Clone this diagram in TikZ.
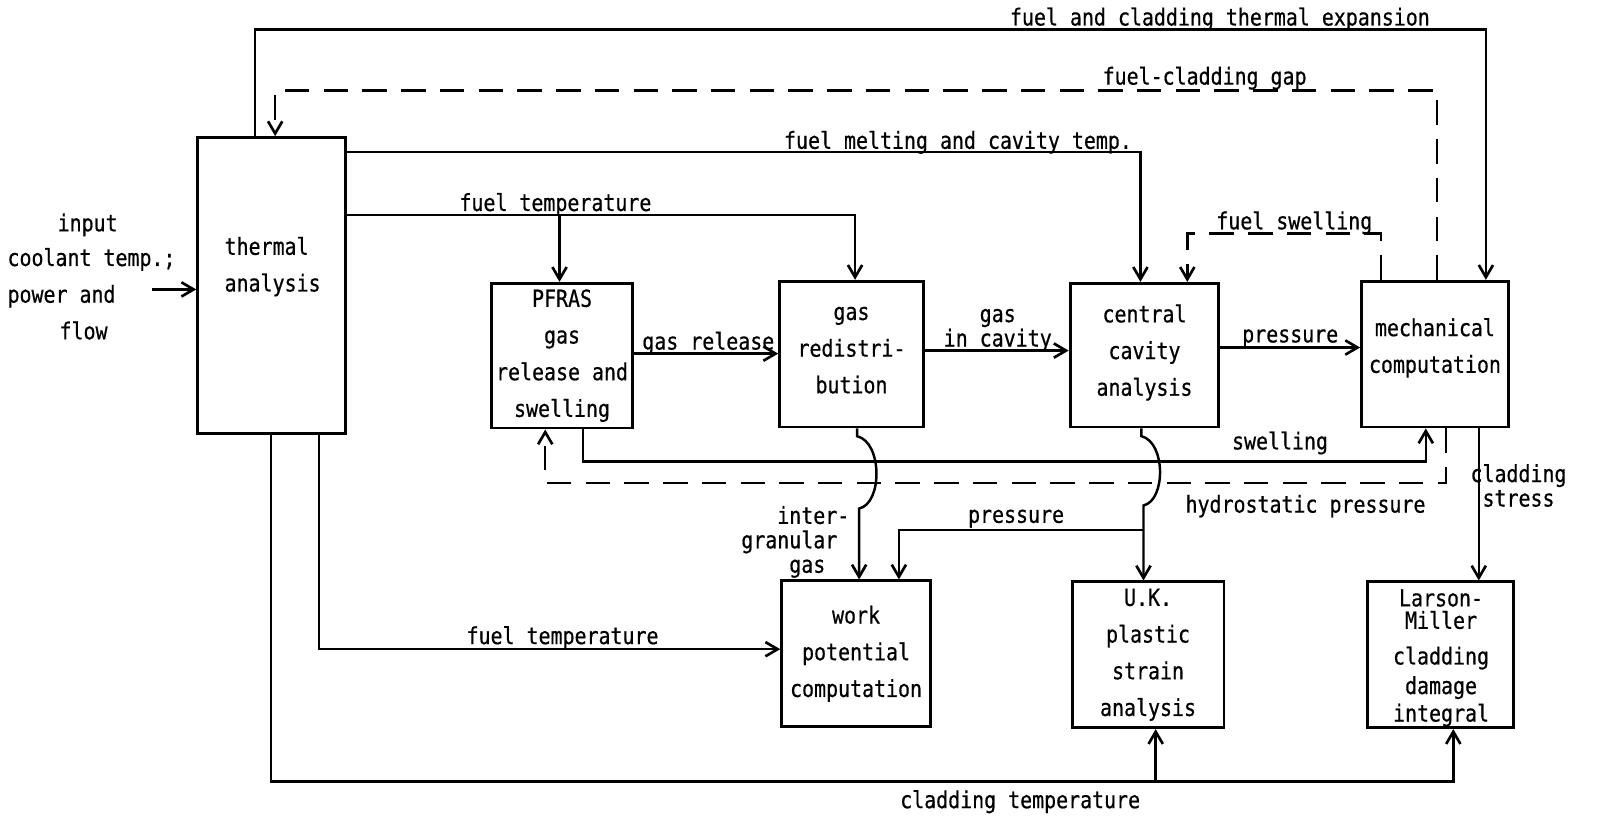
\documentclass[tikz,border=0pt]{standalone}
\usepackage{fontspec}
\setmonofont[FakeStretch=0.85,FakeBold=0.6]{DejaVu Sans Mono}
\usetikzlibrary{arrows.meta}
% extra depth below the last line, lifts centred box text
\newcommand\liftby[1]{\rule[-#1]{0pt}{0pt}}
\begin{document}
\begin{tikzpicture}[x=0.5pt,y=-0.5pt,
  every node/.style={font=\fontsize{11.5pt}{18pt}\selectfont\ttfamily},
  box/.style={draw, line width=1.4pt, inner sep=0pt, align=center},
  txt/.style={inner sep=0pt, align=center},
  wire/.style={line width=1.2pt},
  flow/.style={line width=1.2pt, -{Straight Barb[length=6pt,width=7pt,line width=1.3pt]}},
  dashline/.style={dash pattern=on 12pt off 7pt},
  tight/.style={font=\fontsize{11.5pt}{12pt}\selectfont\ttfamily}]
\useasboundingbox (0,0) rectangle (1568,801);

% ---- blocks
\node[box, minimum width=72.5pt, minimum height=145pt] (thermal) at (266.5,280) {};
\node[txt, anchor=base west, align=left] (thermal-t) at (220,286) {thermal\\analysis};
\node[box, minimum width=69.5pt, minimum height=71pt] (pfras) at (551.5,349)
  {PFRAS\\gas\\release and\\swelling};
\node[box, minimum width=70.5pt, minimum height=71.5pt] (redist) at (835.5,347.5)
  {gas\\redistri-\\bution\liftby{4pt}};
\node[box, minimum width=73pt, minimum height=70.5pt] (central) at (1123,348.5)
  {central\\cavity\\analysis\liftby{5pt}};
\node[box, minimum width=72pt, minimum height=71.5pt] (mech) at (1408,347.5)
  {mechanical\\computation\liftby{8.5pt}};
\node[box, minimum width=73pt, minimum height=71.5pt] (work) at (840,641.5)
  {work\\potential\\computation\liftby{2pt}};
\node[box, minimum width=74.5pt, minimum height=71.5pt] (uk) at (1126.5,642.5)
  {U.K.\\plastic\\strain\\analysis};
\node[box, minimum width=71.5pt, minimum height=71.5pt] (larson) at (1413.5,642.5) {};
\node[txt, anchor=base] (larson-t) at (1414,708)
  {Larson-\\[-7pt]Miller\\[-0.5pt]cladding\\[-3.5pt]damage\\[-4.5pt]integral};

% ---- external input
\node[txt, anchor=base] (in1) at (86,227) {input};
\node[txt, anchor=base west] (in2) at (7,261) {coolant temp.;};
\node[txt, anchor=base west] (in3) at (7,297) {power and};
\node[txt, anchor=base] (in4) at (82,333) {flow};
\coordinate (inpt) at (149,284);
\draw[flow] (inpt) -- (thermal.west |- inpt);

% ---- feedback paths over the top
\draw[flow] (thermal.north -| 250,0) -- (250,29) -- (1458,29) -- (mech.north -| 1458,0);
\node[txt, anchor=base] (l-exp) at (1197,25) {fuel and cladding thermal expansion};

\draw[flow, dashline] (mech.north -| 1410,0) -- (1410,89) -- (270,89) -- (thermal.north -| 270,0);
\node[txt, anchor=base] (l-gap) at (1182,83) {fuel-cladding gap};

\draw[flow] (thermal.east |- 0,149) -- (1119,149) -- (central.north -| 1119,0);
\node[txt, anchor=base] (l-melt) at (940,146) {fuel melting and cavity temp.};

\coordinate (ftb) at (549,211);
\draw[flow] (thermal.east |- ftb) -- (839,211) -- (redist.north -| 839,0);
\draw[flow] (ftb) -- (pfras.north -| ftb);
\node[txt, anchor=base] (l-ft1) at (545,207) {fuel temperature};

% ---- main chain
\draw[flow] (pfras.east |- 0,347) -- (redist.west |- 0,347);
\node[txt, anchor=base] (l-rel) at (695,343) {gas release};
\draw[flow] (redist.east |- 0,344) -- (central.west |- 0,344);
\node[txt, anchor=base, tight] (l-cav) at (979,340) {gas\\in cavity};
\draw[flow] (central.east |- 0,341) -- (mech.west |- 0,341);
\node[txt, anchor=base] (l-pr1) at (1266,336) {pressure};

\draw[flow, dashline] (mech.north -| 1355,0) -- (1355,229) -- (1165,229) -- (central.north -| 1165,0);
\node[txt, anchor=base] (l-fsw) at (1270,225) {fuel swelling};

% ---- returns below the chain
\draw[flow] (pfras.south -| 572,0) -- (572,453) -- (1399,453) -- (mech.south -| 1399,0);
\node[txt, anchor=base] (l-sw) at (1256,441) {swelling};
\draw[flow, dashline] (mech.south -| 1419,0) -- (1419,474) -- (535,474) -- (pfras.south -| 535,0);
\node[txt, anchor=base] (l-hyd) at (1281,503) {hydrostatic pressure};

% ---- downward branches with crossovers
\draw[flow] (redist.south -| 841,0) -- (841,428) .. controls (866,434) and (866,494) .. (843,499)
  -- (work.north -| 843,0);
\node[txt, anchor=base west, align=left, tight] (l-ig) at (727,562)
  {\phantom{gra}inter-\\granular\\\phantom{gran}gas};

\coordinate (prb) at (1122,520);
\draw[flow] (central.south -| 1120,0) -- (1120,428) .. controls (1144,434) and (1144,491) .. (1122,496)
  -- (uk.north -| 1122,0);
\draw[flow] (prb) -- (882,520) -- (work.north -| 882,0);
\node[txt, anchor=base] (l-pr2) at (997,513) {pressure};

\draw[flow] (mech.south -| 1451,0) -- (larson.north -| 1451,0);
\node[txt, anchor=base, tight] (l-cs) at (1490,497) {cladding\\stress};

% ---- temperatures from the thermal block
\draw[flow] (thermal.south -| 313,0) -- (313,637) -- (work.west |- 0,637);
\node[txt, anchor=base] (l-ft2) at (552,632) {fuel temperature};

\coordinate (ctb) at (1134,767);
\draw[flow] (thermal.south -| 266,0) -- (266,767) -- (1426,767) -- (larson.south -| 1426,0);
\draw[flow] (ctb) -- (uk.south -| ctb);
\node[txt, anchor=base] (l-ct) at (1001,793) {cladding temperature};
\end{tikzpicture}
\end{document}
